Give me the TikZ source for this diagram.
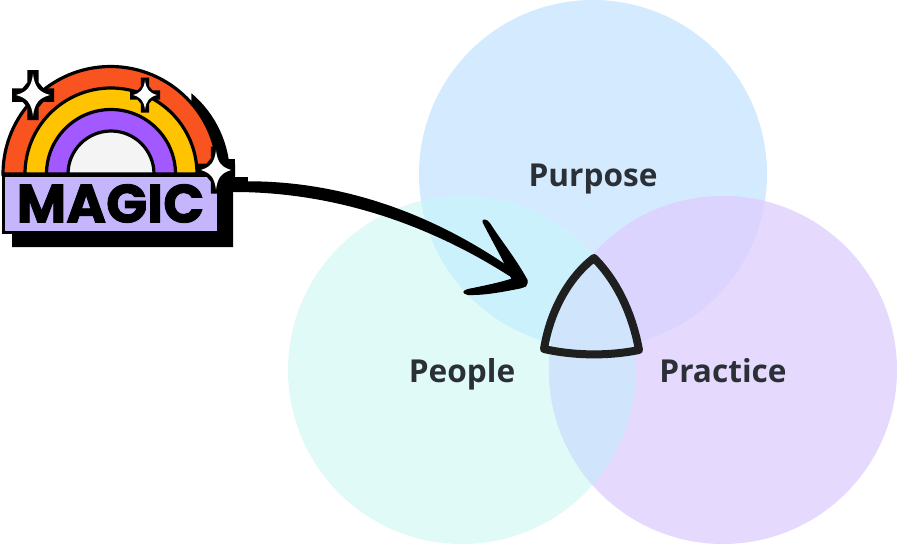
\documentclass[tikz,border=0pt]{standalone}
\usepackage{fontspec}
\setmainfont{Open Sans}[UprightFont=* Bold]
\newfontfamily\magicfont{Poppins}[UprightFont=* Bold]
\definecolor{cpur}{HTML}{D4EAFE}
\definecolor{cpeo}{HTML}{E0FAF8}
\definecolor{cpra}{HTML}{E5D9FD}
\definecolor{cpp}{HTML}{CBF1FC}
\definecolor{cprp}{HTML}{DAD4FE}
\definecolor{cpepr}{HTML}{D0E4FB}
\definecolor{ctxt}{HTML}{2B2F36}
\definecolor{rorange}{HTML}{F9531F}
\definecolor{ryellow}{HTML}{FFC300}
\definecolor{rpurple}{HTML}{A259FF}
\definecolor{rwhite}{HTML}{F4F4F4}
\definecolor{rlabel}{HTML}{C4B5FD}
\tikzset{
  vlabel/.style={font=\fontsize{31.6}{33}\selectfont,text=ctxt,inner sep=0pt,anchor=base},
  arc band/.style={draw=black,line width=3.2pt}
}
\newcommand{\sparkleat}[4]{%
  \begin{scope}[shift={(#1,#2)},xscale=#3,yscale=#4]
  \fill[black] (-0.27,-1) -- (0.27,-1) -- (0.27,-0.5) -- (0.5,-0.27)
   -- (1,-0.27) -- (1,0.27) -- (0.5,0.27) -- (0.27,0.5)
   -- (0.27,1) -- (-0.27,1) -- (-0.27,0.5) -- (-0.5,0.27)
   -- (-1,0.27) -- (-1,-0.27) -- (-0.5,-0.27) -- (-0.27,-0.5) -- cycle;
  \fill[white] (0,-0.84) .. controls (0.08,-0.3) and (0.3,-0.12) .. (0.8,0)
    .. controls (0.3,0.12) and (0.08,0.3) .. (0,0.84)
    .. controls (-0.08,0.3) and (-0.3,0.12) .. (-0.8,0)
    .. controls (-0.3,-0.12) and (-0.08,-0.3) .. cycle;
  \end{scope}}
\begin{document}
\begin{tikzpicture}[x=1pt,y=-1pt]
\useasboundingbox (0,0) rectangle (898,544);
% circles
\def\cpur{(593,174) circle[radius=174]}
\def\cpeo{(462,370) circle[radius=174]}
\def\cpra{(723,370) circle[radius=174]}
\fill[cpur] \cpur;
\fill[cpeo] \cpeo;
\fill[cpra] \cpra;
\begin{scope}\clip \cpur; \fill[cpp] \cpeo; \fill[cprp] \cpra; \end{scope}
\begin{scope}\clip \cpeo; \fill[cpepr] \cpra; \end{scope}
% labels
\node[vlabel] (purpose) at (593,186) {Purpose};
\node[vlabel] (people) at (462,382) {People};
\node[vlabel] (practice) at (723,382) {Practice};
% centre shape
\coordinate (ct) at (594,258);
\coordinate (cl) at (544,349);
\coordinate (cr) at (639,350);
\draw[line width=8pt,draw=black!88,line join=round,line cap=round]
  (ct) .. controls (568,278) and (550,312) .. (cl)
  .. controls (575,356) and (610,356) .. (cr)
  .. controls (632,312) and (616,280) .. cycle;
% badge shadow
\fill[black] (12,232) -- (12,247) -- (233,247) -- (233,175) -- (200,175) -- cycle;
\fill[black] (230,176) arc[start angle=0,end angle=-50,radius=108] -- (190,176) -- cycle;
\fill[black] (225,159) rectangle (235,177);
\fill[black] (232,177) rectangle (248,192);
% rainbow
\draw[arc band,fill=rorange] (3,174) arc[start angle=180,end angle=360,radius=107.5] -- cycle;
\draw[arc band,fill=ryellow] (25,174) arc[start angle=180,end angle=360,radius=86] -- cycle;
\draw[arc band,fill=rpurple] (46.5,174) arc[start angle=180,end angle=360,radius=64.5] -- cycle;
\draw[arc band,fill=rwhite] (68,174) arc[start angle=180,end angle=360,radius=43] -- cycle;
% label box
\draw[draw=black,line width=3pt,fill=rlabel] (3,175) rectangle (218,232);
\node[inner sep=0pt,font=\magicfont\fontsize{54}{56}\selectfont] (magic) at (110.5,203.5) {\addfontfeatures{FakeBold=1.5}MAGIC};
% sparkles
\sparkleat{33}{95}{21}{25}
\sparkleat{145}{95}{15}{17.5}
\sparkleat{216}{170}{19}{23.5}
% arrow
\coordinate (as) at (235,187);
\coordinate (at) at (526,283);
\fill[black] (234,181.5) .. controls (340,178) and (440,215) .. (526,279)
  -- (526,287) .. controls (440,228) and (340,192) .. (234,192) -- cycle;
\fill[black,line join=round,draw=black,line width=1pt] (483,222) .. controls (482,219) and (487,219) .. (490,224)
  .. controls (500,240) and (515,258) .. (527,280)
  .. controls (528,284) and (526,287) .. (520,288)
  .. controls (505,291) and (485,295) .. (468,294.5)
  .. controls (462,293) and (463,291) .. (468,289.5)
  .. controls (485,286) and (500,283) .. (512,279)
  .. controls (505,262) and (492,240) .. (483,222) -- cycle;
\end{tikzpicture}
\end{document}
